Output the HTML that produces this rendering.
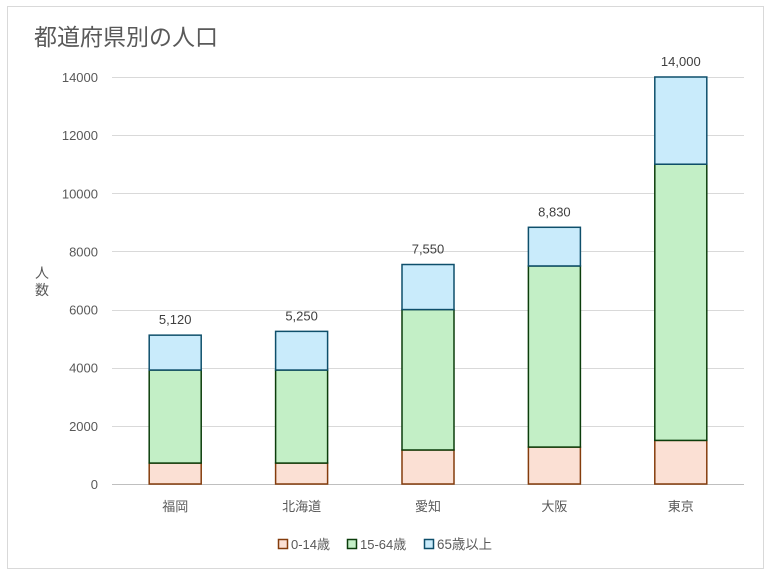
<!DOCTYPE html>
<html><head><meta charset="utf-8"><style>
body{margin:0;background:#fff;}
svg{display:block;font-family:"Liberation Sans","Noto Sans CJK JP",sans-serif;}
</style></head><body>
<svg id="chart" width="781" height="576">
<rect x="7.5" y="6.5" width="756" height="562" fill="#fff" stroke="#d9d9d9"/>
<text x="34" y="45" font-size="23" fill="#595959">都道府県別の人口</text>
<text x="42" y="278" font-size="14" fill="#595959" text-anchor="middle"><tspan x="42" dy="0">人</tspan><tspan x="42" dy="17">数</tspan></text>
<g id="grid"></g><g id="bars"></g><g id="labels"></g>
<g>
<rect x="278.5" y="539.5" width="9" height="9" fill="#fbe0d4" stroke="#843c0c" stroke-width="1.5"/>
<text x="291" y="549" font-size="13" fill="#595959">0-14歳</text>
<rect x="347.5" y="539.5" width="9" height="9" fill="#c3efc6" stroke="#0b3d0b" stroke-width="1.5"/>
<text x="360" y="549" font-size="13" fill="#595959">15-64歳</text>
<rect x="424.5" y="539.5" width="9" height="9" fill="#c9ebfb" stroke="#0e4f6b" stroke-width="1.5"/>
<text x="437" y="549" font-size="13.4" fill="#595959">65歳以上</text>
</g>
</svg>
<script>
const categories=["福岡","北海道","愛知","大阪","東京"];
const young=[720,720,1170,1270,1500];
const working=[3200,3200,4830,6230,9500];
const elderly=[1200,1330,1550,1330,3000];
const totalLabels=["5,120","5,250","7,550","8,830","14,000"];
const yTicks=[0,2000,4000,6000,8000,10000,12000,14000];
const NS="http://www.w3.org/2000/svg";
const x0=112,x1=744,yBase=484,yTop=77,yMax=14000;
const y=v=>yBase-(v/yMax)*(yBase-yTop);
const band=(x1-x0)/categories.length;
const xc=i=>x0+band*(i+0.5);
function mk(tag,attrs,parent){const e=document.createElementNS(NS,tag);for(const k in attrs)e.setAttribute(k,attrs[k]);parent.appendChild(e);return e;}
const grid=document.getElementById('grid'),bars=document.getElementById('bars'),labels=document.getElementById('labels');
yTicks.forEach(t=>{
 const l=mk('line',{x1:x0,x2:x1,y1:Math.round(y(t))+0.5,y2:Math.round(y(t))+0.5,stroke:t===0?'#bfbfbf':'#d9d9d9'},grid);
 
 
 const tx=mk('text',{x:98,y:y(t)+5,'font-size':13,fill:'#595959','text-anchor':'end'},grid);
 tx.textContent=t;
 
 
});
const series=[[young,'#fbe0d4','#843c0c','young'],[working,'#c3efc6','#0b3d0b','working'],[elderly,'#c9ebfb','#0e4f6b','elderly']];
const bw=52;
categories.forEach((c,i)=>{
 let cum=0;
 series.forEach(s=>{
  const v=s[0][i];
  const r=mk('rect',{x:xc(i)-bw/2,y:y(cum+v),width:bw,height:y(cum)-y(cum+v),fill:s[1],stroke:s[2],'stroke-width':1.5},bars);
  
  
  cum+=v;
 });
 const tl=mk('text',{x:xc(i),y:y(cum)-11,'font-size':13,fill:'#404040','text-anchor':'middle'},labels);
 tl.textContent=totalLabels[i];
 
 
 const cl=mk('text',{x:xc(i),y:511,'font-size':13,fill:'#595959','text-anchor':'middle'},labels);
 cl.textContent=c;
 
 
});
</script>
</body></html>
